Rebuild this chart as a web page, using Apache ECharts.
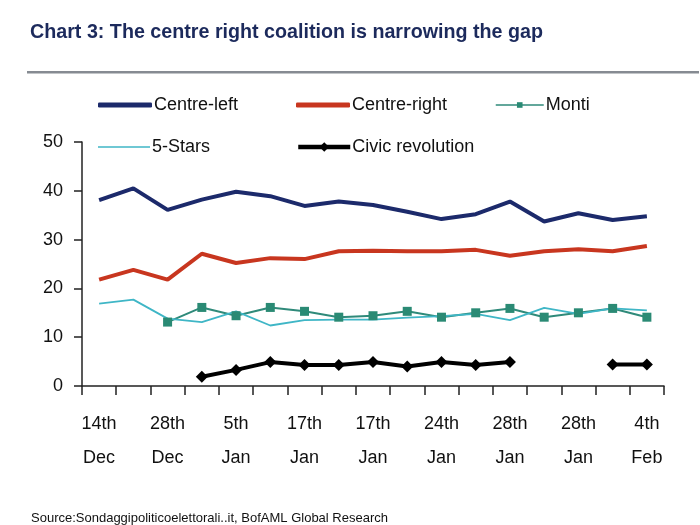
<!DOCTYPE html>
<html><head><meta charset="utf-8">
<script src="https://cdn.jsdelivr.net/npm/echarts@6/dist/echarts.min.js"></script>
<style>html,body{margin:0;padding:0;background:#fff}#c{width:700px;height:525px}</style>
</head><body><div id="c"></div>
<script>
var categories = ['14th\nDec','','28th\nDec','','5th\nJan','','17th\nJan','','17th\nJan','','24th\nJan','','28th\nJan','','28th\nJan','','4th\nFeb'];
var centreLeft  = [38.1,40.5,36.1,38.2,39.8,38.9,36.9,37.8,37.1,35.7,34.2,35.2,37.8,33.7,35.4,34.0,34.8];
var centreRight = [21.8,23.8,21.8,27.1,25.2,26.2,26.0,27.6,27.7,27.6,27.6,27.9,26.7,27.6,28.0,27.6,28.7];
var monti       = [null,null,13.1,16.1,14.4,16.1,15.3,14.1,14.4,15.3,14.1,15.0,15.9,14.1,15.0,15.9,14.1];
var fiveStars   = [16.9,17.7,13.8,13.1,15.3,12.4,13.5,13.6,13.6,14.0,14.3,14.8,13.5,16.0,14.8,15.9,15.5];
var civic       = [null,null,null,1.9,3.3,4.9,4.3,4.3,4.9,4.0,4.9,4.3,4.9,null,null,4.4,4.4];
var yTicks = [0,10,20,30,40,50];

var FONT = 'Liberation Sans, Arial, sans-serif';
var chart = echarts.init(document.getElementById('c'));
function leg(item, left, centerY, w, h) {
  return {data:[item], left:left, top:centerY - 11, itemWidth:w, itemHeight:h, itemGap:0, padding:0,
    height:22,
    textStyle:{fontFamily:FONT, fontSize:18, color:'#111', padding:[0,0,0,-3], lineHeight:22}, selectedMode:false};
}
chart.setOption({
  backgroundColor:'#fff',
  animation:false,
  title:[
    {text:'Chart 3: The centre right coalition is narrowing the gap', left:25, top:18,
     textStyle:{fontFamily:FONT, fontSize:19.7, fontWeight:'bold', color:'#1c2a5c'}},
    {text:'Source:Sondaggipoliticoelettorali..it, BofAML Global Research', left:26, top:507,
     textStyle:{fontFamily:FONT, fontSize:13, fontWeight:'normal', color:'#111'}}
  ],
  graphic:[{type:'rect', shape:{x:27,y:71,width:672,height:2.5}, style:{fill:'#868b92'}}],
  legend:[
    leg({name:'Centre-left', icon:'roundRect'},98,105,54,5),
    leg({name:'Centre-right', icon:'roundRect'},296,105,54,5),
    leg({name:'Monti', lineStyle:{width:1.5}},495,105,48,7),
    leg({name:'5-Stars', icon:'rect'},98,147,52,1.5),
    leg({name:'Civic revolution', lineStyle:{width:4.5}},296,147,52,12)
  ],
  grid:{left:82, right:36, top:142, bottom:139},
  xAxis:{type:'category', data:categories, boundaryGap:true,
    axisLine:{lineStyle:{color:'#222', width:1.5}},
    axisTick:{show:true, interval:0, length:9, lineStyle:{color:'#222', width:1.5}},
    axisLabel:{interval:0, margin:21, fontFamily:FONT, fontSize:18, color:'#111', lineHeight:34}},
  yAxis:{type:'value', min:yTicks[0], max:yTicks[yTicks.length-1], interval:10,
    splitLine:{show:false},
    axisLine:{show:true, lineStyle:{color:'#222', width:1.5}},
    axisTick:{show:true, length:8, lineStyle:{color:'#222', width:1.5}},
    axisLabel:{margin:19, fontFamily:FONT, fontSize:18, color:'#111'}},
  series:[
    {name:'Centre-left', type:'line', data:centreLeft, symbol:'none', lineStyle:{width:4, color:'#1c2a6b'}, itemStyle:{color:'#1c2a6b'}},
    {name:'Centre-right', type:'line', data:centreRight, symbol:'none', lineStyle:{width:4, color:'#c8361f'}, itemStyle:{color:'#c8361f'}},
    {name:'Monti', type:'line', data:monti, symbol:'rect', symbolSize:9, lineStyle:{width:2, color:'#2f8a7a'}, itemStyle:{color:'#2a8a74'}},
    {name:'5-Stars', type:'line', data:fiveStars, symbol:'none', lineStyle:{width:1.8, color:'#3fb6c6'}, itemStyle:{color:'#3fb6c6'}},
    {name:'Civic revolution', type:'line', data:civic, symbol:'diamond', symbolSize:12, lineStyle:{width:4, color:'#000'}, itemStyle:{color:'#000'}}
  ]
});
</script></body></html>
